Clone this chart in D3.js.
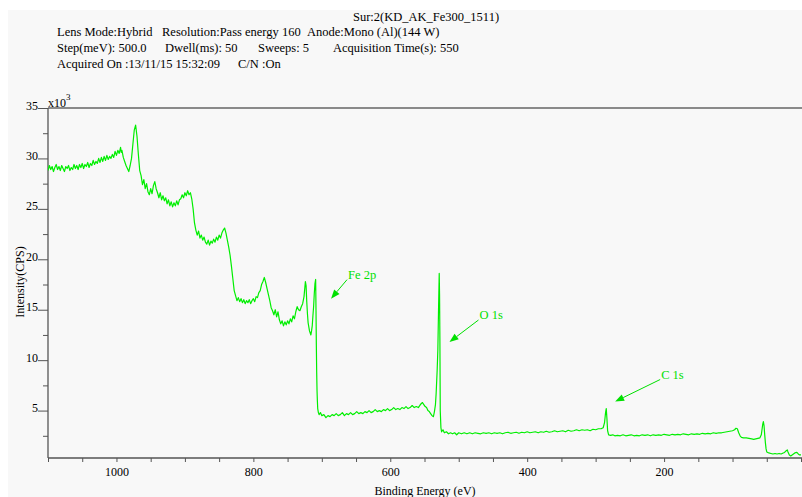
<!DOCTYPE html>
<meta charset="utf-8">
<style>
    body { margin: 0; background: #fff; }
    svg text { font-family: "Liberation Serif", "Times New Roman", serif; fill: #000; }
    .axis .domain { display: none; }
    .axis line { stroke: #555; }
    .note text { fill: #00e000; }
</style>
<svg width="802" height="497"></svg>
<script src="https://d3js.org/d3.v7.min.js"></script>
<script>

    // header text, one row per line
    var sampleTitle = "Sur:2(KD_AK_Fe300_1511)";
    var headerRows = [
        ["Lens Mode:Hybrid", "Resolution:Pass energy 160", "Anode:Mono (Al)(144 W)"],
        ["Step(meV): 500.0", "Dwell(ms): 50", "Sweeps: 5", "Acquisition Time(s): 550"],
        ["Acquired On :13/11/15 15:32:09", "C/N :On"]
    ];

    var xTicks = d3.range(0, 1101, 50);          // binding energy (eV)
    var xLabels = [200, 400, 600, 800, 1000];
    var yTicks = [5, 10, 15, 20, 25, 30, 35];      // x10^3 CPS
    var yMinor = [2.5, 7.5, 12.5, 17.5, 22.5, 27.5, 32.5];

    // survey spectrum: [binding energy eV, intensity x10^3 CPS]
    var spectrum = [
        [1100,28.8],[1098,29.3],[1096,28.9],[1094,29.2],[1092,28.7],[1090,29.1],[1088,29.4],[1086,28.9],
        [1084,29.2],[1082,28.8],[1080,29.3],[1078,29.0],[1076,28.7],[1074,29.2],[1072,29.0],[1070,29.3],
        [1068,28.8],[1066,29.1],[1064,28.9],[1062,29.4],[1060,29.0],[1058,29.3],[1056,28.9],[1054,29.4],
        [1052,29.1],[1050,29.5],[1048,29.0],[1046,29.4],[1044,29.2],[1042,29.6],[1040,29.1],[1038,29.5],
        [1036,29.3],[1034,29.8],[1032,29.4],[1030,29.7],[1028,29.5],[1026,30.0],[1024,29.6],[1022,30.1],
        [1020,29.7],[1018,30.2],[1016,29.8],[1014,30.3],[1012,29.9],[1010,30.2],[1008,30.0],[1006,30.4],
        [1004,30.1],[1002,30.7],[1000,30.3],[998,30.8],[996,30.5],[994,31.1],[993,30.6],[992,30.8],
        [990,30.1],[988,29.7],[986,29.3],[984,29.0],[982,28.7],[980,29.3],[978,30.0],[976,31.4],
        [974,32.8],[972,33.3],[970,32.2],[968,30.4],[966,28.8],[964,28.3],[962,27.4],[960,27.9],
        [958,27.0],[956,27.5],[954,26.7],[952,26.4],[950,27.0],[948,26.5],[946,27.3],[944,27.7],
        [942,27.0],[940,26.6],[938,26.1],[936,26.6],[934,25.9],[932,26.3],[930,25.8],[928,26.1],
        [926,25.5],[924,25.9],[922,25.3],[920,25.7],[918,25.2],[916,25.6],[914,25.3],[912,25.8],
        [910,25.4],[908,25.9],[906,26.0],[904,26.4],[902,26.1],[900,26.6],[898,26.3],[896,26.8],
        [894,26.4],[892,26.6],[890,26.0],[888,25.0],[886,23.6],[884,22.9],[882,22.4],[880,22.8],
        [878,22.1],[876,22.4],[874,21.9],[872,22.2],[870,21.7],[868,21.5],[866,21.9],[864,21.4],
        [862,21.8],[860,21.6],[858,22.0],[856,21.7],[854,22.2],[852,21.9],[850,22.4],[848,22.1],
        [846,22.6],[844,22.9],[842,23.1],[840,22.6],[838,21.9],[836,21.2],[834,20.4],[832,19.3],
        [830,18.1],[828,16.9],[826,16.4],[824,15.9],[822,16.2],[820,15.8],[818,16.1],[816,15.7],
        [814,16.0],[812,15.6],[810,15.9],[808,15.7],[806,16.0],[804,15.6],[802,15.9],[800,16.1],
        [798,15.8],[796,16.3],[794,16.2],[792,16.7],[790,16.9],[788,17.5],[786,17.8],[784,18.2],
        [782,17.7],[780,17.1],[778,16.5],[776,15.9],[774,15.2],[772,14.9],[770,14.5],[768,15.0],
        [766,14.3],[764,14.8],[762,14.0],[760,13.6],[758,13.9],[756,13.4],[754,13.8],[752,13.5],
        [750,13.9],[748,13.6],[746,14.1],[744,13.8],[742,14.4],[740,14.1],[738,14.8],[736,15.3],
        [734,15.0],[732,14.9],[730,15.3],[728,15.6],[726,16.3],[724,17.8],[723,17.4],[722,15.8],
        [721,14.6],[720,13.7],[718,12.9],[716,12.5],[715,12.9],[714,13.4],[713,14.4],[712,15.3],
        [711,16.6],[710,17.6],[709,18.0],[708.5,15.0],[708,11.5],[707.5,8.8],[707,7.0],[706.5,6.0],
        [706,5.2],[705,4.8],[704,4.6],[702,4.8],[700,4.5],[697,4.6],[694,4.3],[691,4.5],
        [688,4.4],[685,4.6],[682,4.5],[679,4.7],[676,4.5],[673,4.6],[670,4.8],[667,4.5],
        [664,4.7],[661,4.6],[658,4.8],[655,4.6],[652,4.7],[649,4.9],[646,4.7],[643,4.8],
        [640,4.7],[637,4.9],[634,4.8],[631,5.0],[628,4.8],[625,4.9],[622,5.1],[619,4.9],
        [616,5.0],[613,4.9],[610,5.1],[607,5.0],[604,5.2],[601,5.0],[598,5.1],[595,5.3],
        [592,5.1],[589,5.2],[586,5.1],[583,5.3],[580,5.2],[577,5.4],[574,5.2],[571,5.3],
        [568,5.5],[565,5.3],[562,5.4],[559,5.3],[556,5.6],[553,5.8],[551,5.6],[549,5.4],
        [547,5.3],[545,5.0],[543,4.9],[541,4.7],[539,4.5],[537,4.4],[535.5,4.9],[534,5.6],
        [533,6.7],[531.5,9.0],[530.5,11.0],[529.5,15.0],[528.5,18.6],[528,16.5],[527.5,12.0],[527,5.0],
        [526,3.3],[525,2.9],[523,3.1],[521,2.8],[518,2.9],[515,2.7],[512,2.8],[509,2.7],
        [506,2.8],[503,2.6],[500,2.8],[496,2.7],[492,2.8],[488,2.7],[484,2.8],[480,2.7],
        [476,2.8],[472,2.75],[468,2.7],[464,2.8],[460,2.75],[456,2.8],[452,2.7],[448,2.8],
        [444,2.75],[440,2.8],[436,2.7],[432,2.8],[428,2.85],[424,2.75],[420,2.8],[416,2.85],
        [412,2.75],[408,2.85],[404,2.8],[400,2.9],[396,2.8],[392,2.85],[388,2.9],[384,2.8],
        [380,2.9],[376,2.85],[372,2.95],[368,2.85],[364,2.9],[360,3.0],[356,2.9],[352,2.95],
        [348,3.0],[344,2.9],[340,3.05],[336,2.95],[332,3.0],[328,3.1],[324,3.0],[320,3.1],
        [316,3.05],[312,3.1],[308,3.0],[304,3.15],[300,3.1],[296,3.2],[292,3.2],[289,3.3],
        [287,3.8],[285.5,4.8],[284.5,5.2],[283.5,4.2],[282.5,3.0],[281,2.6],[278,2.55],[275,2.6],
        [272,2.5],[268,2.55],[264,2.5],[260,2.6],[256,2.5],[252,2.55],[248,2.6],[244,2.5],
        [240,2.55],[236,2.5],[232,2.6],[228,2.55],[224,2.6],[220,2.5],[216,2.6],[212,2.55],
        [208,2.6],[204,2.55],[200,2.65],[196,2.6],[192,2.55],[188,2.65],[184,2.6],[180,2.65],
        [176,2.6],[172,2.7],[168,2.65],[164,2.6],[160,2.7],[156,2.65],[152,2.7],[148,2.65],
        [144,2.75],[140,2.7],[136,2.75],[132,2.7],[128,2.8],[124,2.75],[120,2.8],[116,2.8],
        [112,2.85],[108,2.9],[104,2.95],[100,3.0],[97,3.1],[95,3.25],[93,3.2],[91,2.8],
        [89,2.5],[87,2.35],[84,2.3],[80,2.3],[76,2.25],[72,2.2],[69,2.15],[66,2.2],
        [63,2.25],[60,2.3],[58,2.6],[57,3.1],[56,3.6],[55,3.9],[54,3.5],[53,2.6],
        [52,1.8],[51,1.2],[50,0.9],[47,0.8],[44,0.75],[41,0.7],[38,0.75],[35,0.7],
        [32,0.75],[29,0.7],[26,0.8],[24,0.85],[22,1.0],[20,1.1],[19,0.9],[17,0.6],
        [15,0.5],[13,0.6],[11,0.7],[9,0.8],[6,0.85],[4,0.7],[2,0.6],[0,0.6]
    ];

    // peak labels, arrow tip at [energy, intensity]
    var peakNames = ["Fe 2p", "O 1s", "C 1s"];
    var peakTips = [[686.5, 16.1], [513.5, 11.8], [271.5, 5.9]];

    var svg = d3.select("svg"),
        margin = {top: 108, right: 1, bottom: 39, left: 48},
        width = +svg.attr("width") - margin.left - margin.right,
        height = +svg.attr("height") - margin.top - margin.bottom;

    // light grey panel
    svg.append("rect")
        .attr("x", 8).attr("y", 10)
        .attr("width", 794).attr("height", 487)
        .attr("fill", "#f8f8f8");

    // header
    svg.append("text")
        .attr("x", 353).attr("y", 21)
        .style("font-size", "12.5px")
        .text(sampleTitle);

    var colX = [[57, 162, 307], [57, 165, 258, 333], [57, 238]];
    var rowY = [36, 52, 68];
    headerRows.forEach(function(row, i) {
        row.forEach(function(t, j) {
            svg.append("text")
                .attr("x", colX[i][j]).attr("y", rowY[i])
                .style("font-size", "12.5px")
                .text(t);
        });
    });

    var g = svg.append("g").attr("transform", "translate(" + margin.left + "," + margin.top + ")");

    var x = d3.scaleLinear().domain([1100, 0]).range([0, width]);
    var y = d3.scaleLinear().domain([0.3, 35]).range([height, 0]);

    g.append("clipPath").attr("id", "clip")
        .append("rect").attr("width", width).attr("height", height);

    // axes
    var xAxis = g.append("g")
        .attr("class", "axis")
        .attr("transform", "translate(0," + height + ")")
        .call(d3.axisBottom(x)
            .tickValues(xTicks)
            .tickSize(4)
            .tickPadding(5)
            .tickFormat(function(d) { return xLabels.indexOf(d) >= 0 ? d : ""; }));
    xAxis.selectAll("text")
        .style("font-size", "12px")
        .attr("fill", "#000");

    var yAxis = g.append("g")
        .attr("class", "axis")
        .call(d3.axisLeft(y).tickValues(yTicks).tickSize(10).tickPadding(0));
    yAxis.selectAll("text")
        .style("font-size", "12px")
        .attr("fill", "#000")
        .attr("y", 1)
        .attr("dy", 0);

    g.append("g")
        .attr("class", "axis")
        .call(d3.axisLeft(y).tickValues(yMinor).tickSize(5).tickFormat(""));

    // frame
    g.append("line")
        .attr("x1", 0).attr("x2", width + 1).attr("y1", 0).attr("y2", 0)
        .attr("stroke", "#666").attr("stroke-width", 1.5);
    g.append("line")
        .attr("x1", 0).attr("x2", 0).attr("y1", 0).attr("y2", height)
        .attr("stroke", "#555").attr("stroke-width", 1.3);
    g.append("line")
        .attr("x1", 0).attr("x2", width + 1).attr("y1", height).attr("y2", height)
        .attr("stroke", "#555").attr("stroke-width", 1.3);

    // x10^3
    var mult = g.append("text").attr("x", 0).attr("y", -1).style("font-size", "12px");
    mult.append("tspan").text("x10");
    mult.append("tspan").attr("dy", -7).style("font-size", "9px").text("3");

    // spectrum
    var line = d3.line()
        .x(function(d) { return x(d[0]); })
        .y(function(d) { return y(d[1]); });

    g.append("path")
        .datum(spectrum)
        .attr("clip-path", "url(#clip)")
        .attr("fill", "none")
        .attr("stroke", "#00ee00")
        .attr("stroke-width", 1.2)
        .attr("stroke-linejoin", "round")
        .attr("d", line);

    // peak annotations
    var textOff = [[17, -20], [30, -23], [46, -23]];
    var notes = g.append("g").attr("class", "note");
    peakNames.forEach(function(name, i) {
        var tx = x(peakTips[i][0]), ty = y(peakTips[i][1]);
        var sx = tx + textOff[i][0] - 1, sy = ty + textOff[i][1] + 1;
        var a = Math.atan2(ty - sy, tx - sx), len = 9, w = 3.5;
        var bx = tx - len * Math.cos(a), by = ty - len * Math.sin(a);
        notes.append("line")
            .attr("x1", sx).attr("y1", sy).attr("x2", bx).attr("y2", by)
            .attr("stroke", "#00e000").attr("stroke-width", 1);
        notes.append("path")
            .attr("d", "M" + tx + "," + ty +
                "L" + (bx + w * Math.sin(a)) + "," + (by - w * Math.cos(a)) +
                "L" + (bx - w * Math.sin(a)) + "," + (by + w * Math.cos(a)) + "Z")
            .attr("fill", "#00e000");
        notes.append("text")
            .attr("x", tx + textOff[i][0]).attr("y", ty + textOff[i][1])
            .style("font-size", "12.5px")
            .text(name);
    });

    // axis titles
    svg.append("text")
        .attr("x", 425).attr("y", 495)
        .attr("text-anchor", "middle")
        .style("font-size", "12px")
        .text("Binding Energy (eV)");

    svg.append("text")
        .attr("transform", "translate(24,282) rotate(-90)")
        .attr("text-anchor", "middle")
        .style("font-size", "12px")
        .text("Intensity(CPS)");

</script>
